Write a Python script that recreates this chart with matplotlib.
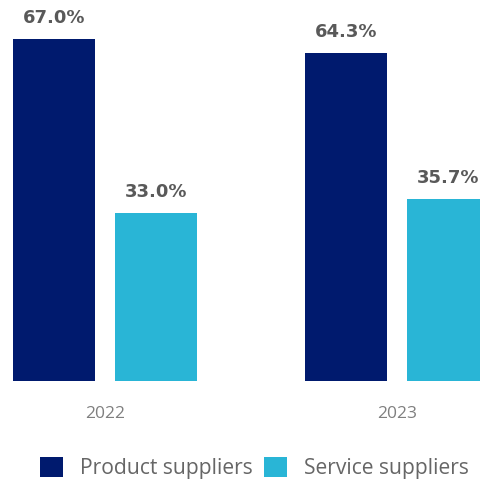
import matplotlib
matplotlib.use("Agg")
import matplotlib.pyplot as plt
import numpy as np

years = ["2022", "2023"]
product = [67.0, 64.3]
service = [33.0, 35.7]
series_names = ["Product suppliers", "Service suppliers"]
colors = ["#001a6e", "#29b5d6"]

fig = plt.figure(figsize=(4.81, 4.83), dpi=100)
ax = fig.add_axes([0, 0.2112, 1, 0.7888])

x = np.arange(len(years))
w = 0.28
off = 0.175
b1 = ax.bar(x - off, product, w, color=colors[0], label=series_names[0])
b2 = ax.bar(x + off, service, w, color=colors[1], label=series_names[1])

for bars, vals in ((b1, product), (b2, service)):
    for r, v in zip(bars, vals):
        ax.annotate(f"{v:.1f}%", (r.get_x() + r.get_width() / 2, v),
                    xytext=(0, 12), textcoords="offset pixels",
                    ha="center", va="bottom", fontsize=13, fontweight="bold",
                    color="#595959", family="DejaVu Sans")

ax.set_xlim(-0.36, 1.288)
ax.set_ylim(0, 74.7)
for s in ax.spines.values():
    s.set_visible(False)
ax.set_yticks([])
ax.set_xticks(x)
ax.set_xticklabels(years, fontsize=12.5, color="#7f7f7f", family="Open Sans")
ax.tick_params(axis="x", length=0, pad=18)

leg = fig.legend(handles=[b1, b2], labels=series_names, loc="center",
                 bbox_to_anchor=(0.529, 0.031), ncol=2, frameon=False,
                 prop={"family": "Open Sans", "size": 15.2},
                 handlelength=1.1, handleheight=1.1, handletextpad=0.8,
                 columnspacing=0.5, borderpad=0, borderaxespad=0)
for t in leg.get_texts():
    t.set_color("#666666")

fig.savefig("out.png", dpi=100)
